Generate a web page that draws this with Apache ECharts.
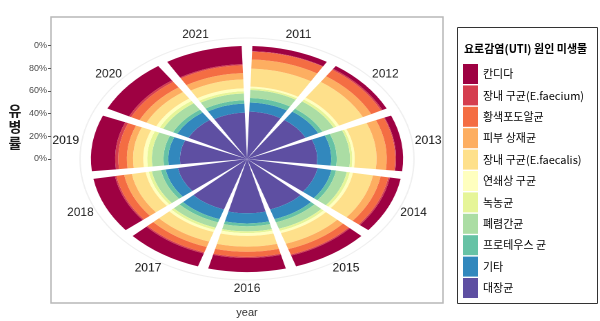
<!DOCTYPE html>
<html><head><meta charset="utf-8">
<script src="https://cdn.jsdelivr.net/npm/echarts@6/dist/echarts.min.js"></script>
<style>
html,body{margin:0;padding:0;background:#fff;width:600px;height:321px;overflow:hidden}
#base{position:absolute;left:0;top:0;width:600px;height:321px}
#polar{position:absolute;left:0;top:0;width:600px;height:321px;transform-origin:247px 159px;transform:scaleX(1.38)}
</style></head><body><div id="base"></div><div id="polar"></div>
<script>
const SX = 1.38;
const years = ['2011','2012','2013','2014','2015','2016','2017','2018','2019','2020','2021'];
const yTickLabels = ['0%','20%','40%','60%','80%','0%'];
const yAxisTitleChars = ['유','병','률'];
const organisms = ['대장균','기타','프로테우스 균','폐렴간균','녹농균','연쇄상 구균','장내 구균(E.faecalis)','피부 상재균','황색포도알균','장내 구균(E.faecium)','칸디다'];
const colors = ['#5E4FA2','#3288BD','#66C2A5','#ABDDA4','#E6F598','#FFFFBF','#FEE08B','#FDAE61','#F46D43','#D53E4F','#9E0142'];
// percent shares per year (2011..2021)
const ecoli      = [42, 42, 45, 46, 47, 48, 47, 45, 43, 42, 41];
const others     = [8, 9, 9, 9, 9, 9, 9, 8, 7.5, 8, 8];
const proteus    = [4, 3, 3.5, 3, 3, 2.5, 3, 3, 3, 3, 3];
const klebsiella = [7, 8, 8.5, 7, 6, 4.5, 5, 6, 7.5, 7, 6];
const pseudo     = [1.5, 2, 1.5, 2, 2, 1.5, 2, 2, 3, 2.5, 2];
const strep      = [1.5, 2, 1.5, 2, 2, 2.5, 2, 2, 2.5, 2.5, 2.5];
const faecalis   = [16, 17, 14, 13, 10, 9.5, 9, 9, 6.5, 7, 8];
const skin       = [8, 6, 6.5, 5, 5, 4.5, 5, 5, 4, 5, 5.5];
const staph      = [7, 7, 5.5, 5, 5, 4.5, 5, 5, 5.5, 6, 7];
const faecium    = [0.5, 1, 0.5, 1, 1, 1, 1, 1, 2, 1.5, 1];
const candida    = [4.5, 3, 4.5, 7, 10, 12.5, 12, 14, 15.5, 15.5, 16];
const seriesValues = [ecoli, others, proteus, klebsiella, pseudo, strep, faecalis, skin, staph, faecium, candida];

const base = echarts.init(document.getElementById('base'));
base.setOption({
  animation:false,
  grid:{left:51, top:45.5, width:392, height:113.5},
  xAxis:{type:'value', show:false},
  yAxis:{type:'value', min:0, max:100, interval:20,
    axisLine:{show:false},
    axisTick:{show:true, length:3, lineStyle:{color:'#555'}},
    axisLabel:{formatter:(v)=>yTickLabels[Math.round(v/20)], fontSize:9, color:'#4d4d4d', margin:4, fontFamily:'Liberation Sans'},
    splitLine:{show:false}},
  legend:{data:organisms.slice().reverse(), orient:'vertical', left:463, top:64, padding:0,
    itemWidth:15, itemHeight:20, itemGap:1.4, icon:'rect',
    textStyle:{fontFamily:'Noto Sans CJK KR', fontSize:11, color:'#000'}},
  series: organisms.map((n,i)=>({type:'bar', name:n, data:[], itemStyle:{color:colors[i]}})),
  graphic:[
    {type:'rect', shape:{x:51, y:17, width:392, height:286}, style:{fill:null, stroke:'#b8b8b8', lineWidth:1.5}, silent:true},
    {type:'rect', shape:{x:457.5, y:27.5, width:140, height:276}, style:{fill:null, stroke:'#333', lineWidth:1}, silent:true},
    {type:'text', x:464, y:49, style:{text:'요로감염(UTI) 원인 미생물', font:'bold 11px "Noto Sans CJK KR"', fill:'#000', verticalAlign:'middle'}},
    {type:'text', x:247, y:313, style:{text:'year', font:'11px "Liberation Sans"', fill:'#333', align:'center', verticalAlign:'middle'}}
  ].concat(yAxisTitleChars.map((c,i)=>({type:'text', x:15, y:111+i*16,
    style:{text:c, font:'bold 14px "Noto Sans CJK KR"', fill:'#1a1a1a', align:'center', verticalAlign:'middle'}})))
});

const polar = echarts.init(document.getElementById('polar'), null, {devicePixelRatio:2});
const series = seriesValues.map((vals,i)=>({
  type:'bar', coordinateSystem:'polar', stack:'total', name:organisms[i],
  data:vals, itemStyle:{color:colors[i]}, barCategoryGap:'12%', silent:true
}));
// year labels anchored just outside the bars, justified outward (like ggplot coord_polar)
series.push({
  type:'custom', coordinateSystem:'polar', silent:true, z:10,
  data: years.map((y,i)=>[109, i]),
  renderItem:(params, api)=>{
    const p = api.coord([api.value(0), api.value(1)]);
    const q = api.coord([api.value(0)+10, api.value(1)]);
    const dx = q[0]-p[0], dy = q[1]-p[1], len = Math.hypot(dx, dy) || 1;
    const ux = dx/len, uy = dy/len;
    return {type:'text', x:p[0] + ux*13/SX, y:p[1] + uy*6.5, scaleX:1/SX, scaleY:1,
      style:{text:years[params.dataIndex], font:'12px "Liberation Sans"', fill:'#1a1a1a', align:'center', verticalAlign:'middle'}};
  }
});
polar.setOption({
  animation:false,
  polar:{center:[247,159], radius:121},
  angleAxis:{type:'category', data:years, startAngle:90, clockwise:true, boundaryGap:true,
    axisLine:{show:true, lineStyle:{color:'#efefef', width:1}}, axisTick:{show:false}, axisLabel:{show:false}, splitLine:{show:false}},
  radiusAxis:{type:'value', min:0, max:107, axisLine:{show:false}, axisTick:{show:false}, axisLabel:{show:false}, splitLine:{show:false}},
  series
});
</script></body></html>
